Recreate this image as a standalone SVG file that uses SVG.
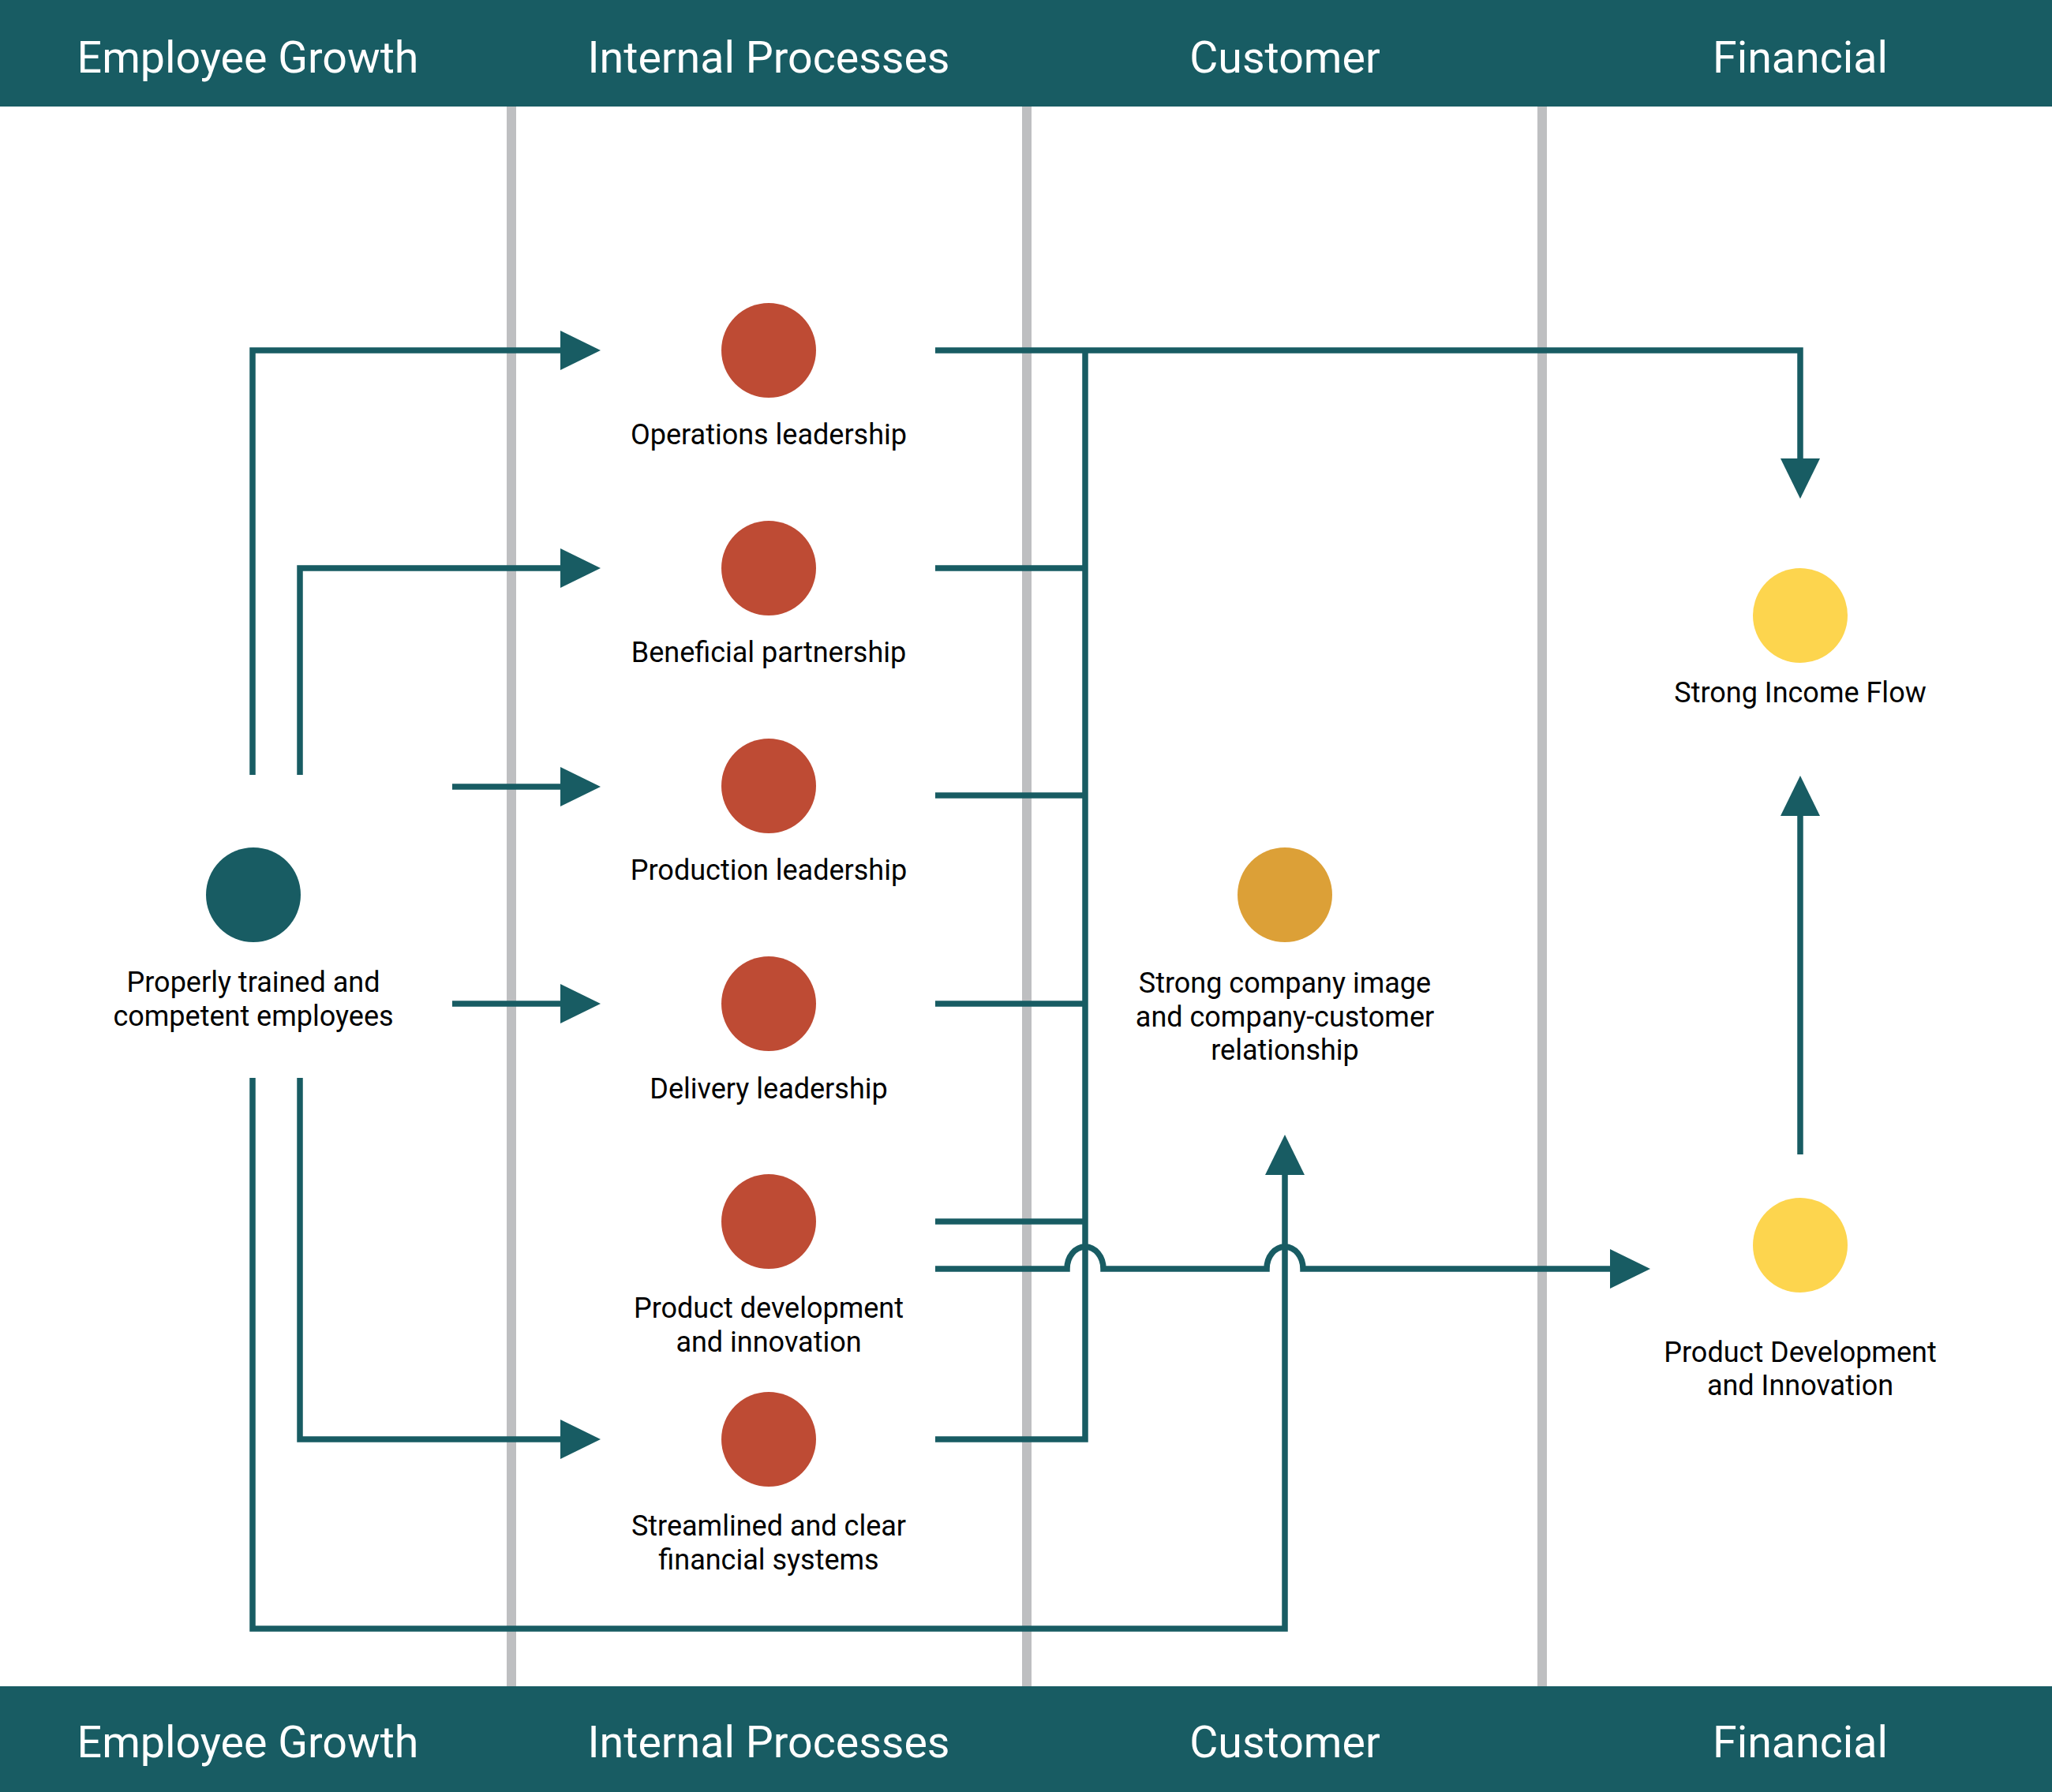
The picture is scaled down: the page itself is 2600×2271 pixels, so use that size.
<svg xmlns="http://www.w3.org/2000/svg" width="2600" height="2271" viewBox="0 0 2600 2271">
<style>
.band{fill:#185c63}
.hdr{font-family:Roboto,"Liberation Sans",sans-serif;font-size:55.5px;fill:#ffffff;text-anchor:middle}
.lane{stroke:#bebfc1;stroke-width:12;fill:none}
.lbl{font-family:Roboto,"Liberation Sans",sans-serif;font-size:36px;fill:#000000;text-anchor:middle}
.con{stroke:#185c63;stroke-width:7.5;fill:none;stroke-linejoin:miter;stroke-linecap:butt}
.red{fill:#be4b34}
.teal{fill:#185c63}
.gold{fill:#dca037}
.yel{fill:#fdd54e}
</style>
<defs>
<marker id="arr" markerUnits="userSpaceOnUse" markerWidth="52" markerHeight="52" refX="0" refY="25" orient="auto" viewBox="0 0 52 50">
<path d="M0,0 L51,25 L0,50 z" fill="#185c63"/>
</marker>
</defs>
<rect width="2600" height="2271" fill="#ffffff"/>
<g id="lanes">
<line class="lane" x1="648" y1="135" x2="648" y2="2137"/>
<line class="lane" x1="1301" y1="135" x2="1301" y2="2137"/>
<line class="lane" x1="1954" y1="135" x2="1954" y2="2137"/>
</g>
<g id="header-top">
<rect class="band" x="0" y="0" width="2600" height="135"/>
<text class="hdr" x="314" y="92">Employee Growth</text>
<text class="hdr" x="974" y="92">Internal Processes</text>
<text class="hdr" x="1628" y="92">Customer</text>
<text class="hdr" x="2281" y="92">Financial</text>
</g>
<g id="header-bottom">
<rect class="band" x="0" y="2137" width="2600" height="134"/>
<text class="hdr" x="314" y="2227">Employee Growth</text>
<text class="hdr" x="974" y="2227">Internal Processes</text>
<text class="hdr" x="1628" y="2227">Customer</text>
<text class="hdr" x="2281" y="2227">Financial</text>
</g>
<g id="connectors">
<path class="con" d="M320,982 V444 H710" marker-end="url(#arr)"/>
<path class="con" d="M380,982 V720 H710" marker-end="url(#arr)"/>
<path class="con" d="M573,997 H710" marker-end="url(#arr)"/>
<path class="con" d="M573,1272 H710" marker-end="url(#arr)"/>
<path class="con" d="M380,1366 V1824 H710" marker-end="url(#arr)"/>
<path class="con" d="M320,1366 V2064 H1628 V1489" marker-end="url(#arr)"/>
<path class="con" d="M1185,444 H2281 V581" marker-end="url(#arr)"/>
<path class="con" d="M1375,444 V1824 H1185"/>
<path class="con" d="M1185,720 H1375"/>
<path class="con" d="M1185,1008 H1375"/>
<path class="con" d="M1185,1272 H1375"/>
<path class="con" d="M1185,1548 H1375"/>
<path class="con" d="M1185,1608 H1352 A23,28 0 0 1 1398,1608 H1605 A23,28 0 0 1 1651,1608 H2040" marker-end="url(#arr)"/>
<path class="con" d="M2281,1463 V1034" marker-end="url(#arr)"/>
</g>
<g id="node-employees">
<circle class="teal" cx="321" cy="1134" r="60"/>
<text class="lbl" x="321" y="1257">Properly trained and</text>
<text class="lbl" x="321" y="1300">competent employees</text>
</g>
<g id="node-operations">
<circle class="red" cx="974" cy="444" r="60"/>
<text class="lbl" x="974" y="563">Operations leadership</text>
</g>
<g id="node-partnership">
<circle class="red" cx="974" cy="720" r="60"/>
<text class="lbl" x="974" y="839">Beneficial partnership</text>
</g>
<g id="node-production">
<circle class="red" cx="974" cy="996" r="60"/>
<text class="lbl" x="974" y="1115">Production leadership</text>
</g>
<g id="node-delivery">
<circle class="red" cx="974" cy="1272" r="60"/>
<text class="lbl" x="974" y="1392">Delivery leadership</text>
</g>
<g id="node-product-dev">
<circle class="red" cx="974" cy="1548" r="60"/>
<text class="lbl" x="974" y="1670">Product development</text>
<text class="lbl" x="974" y="1713">and innovation</text>
</g>
<g id="node-financial-systems">
<circle class="red" cx="974" cy="1824" r="60"/>
<text class="lbl" x="974" y="1946">Streamlined and clear</text>
<text class="lbl" x="974" y="1989">financial systems</text>
</g>
<g id="node-customer">
<circle class="gold" cx="1628" cy="1134" r="60"/>
<text class="lbl" x="1628" y="1258">Strong company image</text>
<text class="lbl" x="1628" y="1301">and company-customer</text>
<text class="lbl" x="1628" y="1343">relationship</text>
</g>
<g id="node-income">
<circle class="yel" cx="2281" cy="780" r="60"/>
<text class="lbl" x="2281" y="890">Strong Income Flow</text>
</g>
<g id="node-pdi">
<circle class="yel" cx="2281" cy="1578" r="60"/>
<text class="lbl" x="2281" y="1726">Product Development</text>
<text class="lbl" x="2281" y="1768">and Innovation</text>
</g>
</svg>
